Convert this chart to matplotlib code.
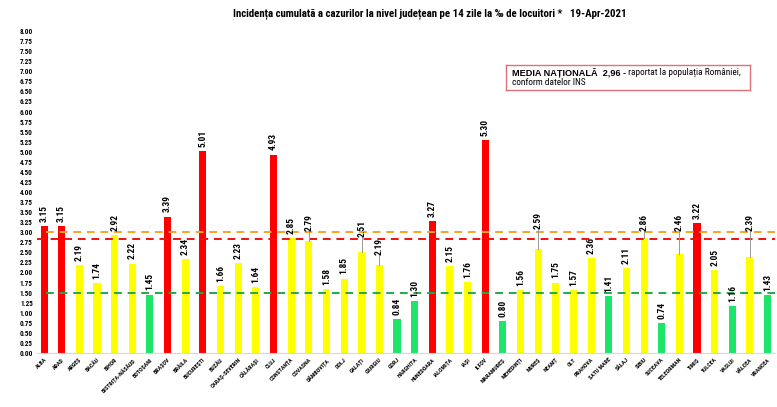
import matplotlib
matplotlib.use("Agg")
import matplotlib.pyplot as plt
import numpy as np
from matplotlib import font_manager
from matplotlib.font_manager import FontProperties

counties = ["ALBA", "ARAD", "ARGEȘ", "BACĂU", "BIHOR", "BISTRIȚA-NĂSĂUD", "BOTOȘANI",
            "BRAȘOV", "BRĂILA", "BUCUREȘTI", "BUZĂU", "CARAȘ-SEVERIN", "CĂLĂRAȘI", "CLUJ",
            "CONSTANȚA", "COVASNA", "DÂMBOVIȚA", "DOLJ", "GALAȚI", "GIURGIU", "GORJ",
            "HARGHITA", "HUNEDOARA", "IALOMIȚA", "IAȘI", "ILFOV", "MARAMUREȘ", "MEHEDINȚI",
            "MUREȘ", "NEAMȚ", "OLT", "PRAHOVA", "SATU MARE", "SĂLAJ", "SIBIU", "SUCEAVA",
            "TELEORMAN", "TIMIȘ", "TULCEA", "VASLUI", "VÂLCEA", "VRANCEA"]
values = [3.15, 3.15, 2.19, 1.74, 2.92, 2.22, 1.45, 3.39, 2.34, 5.01, 1.66, 2.23, 1.64,
          4.93, 2.85, 2.79, 1.58, 1.85, 2.51, 2.19, 0.84, 1.30, 3.27, 2.15, 1.76, 5.30,
          0.80, 1.56, 2.59, 1.75, 1.57, 2.36, 1.41, 2.11, 2.86, 0.74, 2.46, 3.22, 2.05,
          1.16, 2.39, 1.43]
national_avg = 2.96
line_orange = 3.0
line_red = 2.82
line_green = 1.5
# labels lifted above their bar with a leader line (label base height)
leader_labels = {"COVASNA": 3.04, "GALAȚI": 2.89, "GIURGIU": 2.43, "MUREȘ": 3.07,
                 "SIBIU": 3.04, "TELEORMAN": 3.04, "VÂLCEA": 3.04}


def find_font(candidates, fallback_family, weight):
    files = [f.fname for f in font_manager.fontManager.ttflist]
    for c in candidates:
        for fn in files:
            if fn.split("/")[-1].lower() == c.lower():
                return FontProperties(fname=fn)
    return FontProperties(family=fallback_family, weight=weight)


narrow_bold = find_font(["LiberationSansNarrow-Bold.ttf", "RobotoCondensed-Bold.ttf",
                         "OpenSans_Condensed-Bold.ttf", "DejaVuSansCondensed-Bold.ttf"],
                        "Liberation Sans", "bold")
narrow_reg = find_font(["LiberationSansNarrow-Regular.ttf", "RobotoCondensed-Regular.ttf",
                        "DejaVuSansCondensed.ttf"], "Liberation Sans", "normal")
arial_bold = FontProperties(family=["Liberation Sans", "DejaVu Sans"], weight="bold")
arial_reg = FontProperties(family=["Liberation Sans", "DejaVu Sans"], weight="normal")

RED = "#FF0000"
YEL = "#FFFF00"
GRN = "#1DE56C"


def color_for(v):
    if v >= 3.0:
        return RED
    if v <= 1.5:
        return GRN
    return YEL


fig = plt.figure(figsize=(7.77, 4.07), dpi=100)
renderer = fig.canvas.get_renderer()


def fit(text, fp, target_px, base=10.0):
    t = fig.text(0, 0, text, fontproperties=fp, size=base)
    w = t.get_window_extent(renderer).width
    t.remove()
    return base * target_px / w


title_txt = "Incidența cumulată a cazurilor la nivel județean pe 14 zile la ‰ de locuitori *   19-Apr-2021"
s_title = fit(title_txt, narrow_bold, 395)
s_ytick = fit("8.00", narrow_bold, 13)
s_val = fit("5.30", narrow_bold, 17)
s_xtick = fit("BISTRIȚA-NĂSĂUD", narrow_bold, 45)
bold_box = f"MEDIA NAȚIONALĂ  {national_avg:.2f}".replace(".", ",") + " -"
s_boxb = fit(bold_box, arial_bold, 114)
s_boxr = fit("raportat la populația României,", narrow_reg, 111)

ax = fig.add_axes([0.0476, 0.1327, 0.9494, 0.7911])
x = np.arange(len(counties))
ax.bar(x, values, width=0.4, color=[color_for(v) for v in values], zorder=2)

ax.set_xlim(-0.4, len(counties) - 0.6)
ax.set_ylim(0, 8)
yt = np.arange(0, 8.01, 0.25)
ax.set_yticks(yt)
ax.set_yticklabels([f"{t:.2f}" for t in yt])
for lab in ax.get_yticklabels():
    lab.set_fontproperties(narrow_bold)
    lab.set_size(s_ytick)
ax.set_xticks(x)
ax.set_xticklabels(counties, rotation=45, ha="right", rotation_mode="anchor")
for lab in ax.get_xticklabels():
    lab.set_fontproperties(narrow_bold)
    lab.set_size(s_xtick)
ax.tick_params(axis="y", length=0, pad=3)
ax.tick_params(axis="x", length=0, pad=3)
for s in ["top", "right", "left"]:
    ax.spines[s].set_visible(False)
ax.spines["bottom"].set_color("#d9d9d9")
ax.spines["bottom"].set_linewidth(0.8)

ax.axhline(line_orange, xmin=0.012, color="#F5A623", ls=(0, (4, 3)), lw=1.4, zorder=3)
ax.axhline(line_red, color="#F01010", ls=(0, (4, 3)), lw=1.4, zorder=3)
ax.axhline(line_green, xmin=0.012, color="#22A84A", ls=(0, (4, 3)), lw=1.4, zorder=3)

for xi, name, v in zip(x, counties, values):
    if name in leader_labels:
        ly = leader_labels[name]
        ax.plot([xi, xi], [v, ly], color="#9a9a9a", lw=0.7, zorder=4)
        ax.text(xi, ly, f"{v:.2f}", rotation=90, ha="center", va="bottom",
                fontproperties=narrow_bold, size=s_val, zorder=5)
    else:
        ax.annotate(f"{v:.2f}", (xi, v), xytext=(0, 3), textcoords="offset points",
                    rotation=90, ha="center", va="bottom", fontproperties=narrow_bold,
                    size=s_val, zorder=5)

fig.text(0.553, 0.9656, title_txt, ha="center", va="center",
         fontproperties=narrow_bold, size=s_title)

# national average box
box_ax = fig.add_axes([506 / 777, 1 - 90 / 407, 244 / 777, 25 / 407])
box_ax.set_xticks([]); box_ax.set_yticks([])
box_ax.set_xlim(0, 244); box_ax.set_ylim(25, 0)
for s in box_ax.spines.values():
    s.set_color("#E0707A"); s.set_linewidth(1.0)
tb = box_ax.text(5.5, 7.5, bold_box, fontproperties=arial_bold, size=s_boxb,
                 va="center", ha="left")
box_ax.annotate(" raportat la populația României,", xy=(1, 0.5), xycoords=tb,
                va="center", ha="left", fontproperties=narrow_reg, size=s_boxr)
box_ax.text(5.5, 17.5, "conform datelor INS", fontproperties=narrow_reg, size=s_boxr,
            va="center", ha="left")

fig.savefig("out.png", dpi=100)
